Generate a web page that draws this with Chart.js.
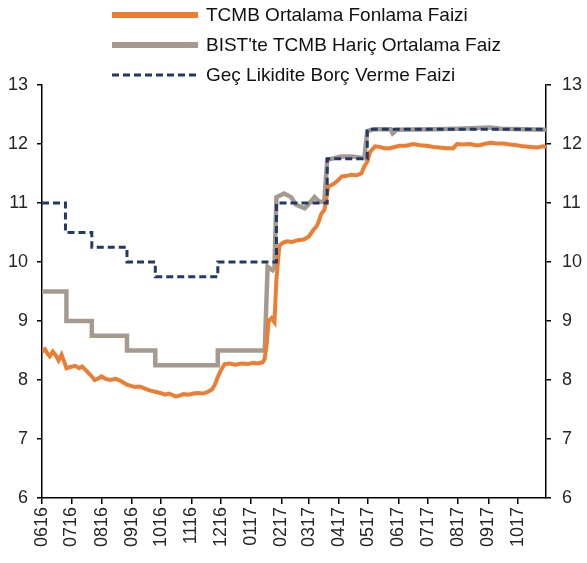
<!DOCTYPE html>
<html>
<head>
<meta charset="utf-8">
<script src="https://cdn.jsdelivr.net/npm/chart.js@4"></script>
<style>
  html, body { margin: 0; padding: 0; background: #fff; }
  #wrap { width: 587px; height: 563px; }
</style>
</head>
<body>
<div id="wrap"><canvas id="rateChart" width="587" height="563"></canvas></div>
<script>
// Day offsets from 1 June 2016, tick at the start of each month
const monthStartDays = [0, 30, 61, 92, 122, 153, 183, 214, 245, 273, 304, 334, 365, 395, 426, 457, 487];
const xTickLabels = ['0616', '0716', '0816', '0916', '1016', '1116', '1216', '0117', '0217',
  '0317', '0417', '0517', '0617', '0717', '0817', '0917', '1017'];
const lastDay = 516;

// TCMB Ortalama Fonlama Faizi
const fundingDays = [0, 3, 6, 8, 11, 14, 17, 20, 23, 25, 29, 34, 38, 41, 44, 47, 51, 54, 58, 61, 65,
  70, 75, 80, 84, 87, 91, 95, 100, 106, 111, 116, 121, 126, 130, 133, 137, 140, 145, 150, 155, 160,
  165, 170, 174, 177, 180, 183, 187, 192, 198, 204, 211, 216, 221, 226, 228, 230, 232, 235, 238, 240,
  243, 247, 251, 256, 262, 268, 273, 276, 278, 281, 283, 286, 289, 290, 293, 297, 300, 304, 307, 312,
  317, 322, 327, 330, 333, 336, 341, 346, 350, 356, 361, 366, 373, 380, 387, 394, 401, 407, 414, 421,
  425, 431, 438, 444, 448, 453, 459, 465, 472, 479, 486, 493, 500, 507, 513, 516];
const fundingRates = [8.48, 8.52, 8.44, 8.40, 8.48, 8.42, 8.33, 8.43, 8.30, 8.20, 8.22, 8.24, 8.20, 8.23,
  8.18, 8.13, 8.06, 8.00, 8.03, 8.06, 8.02, 8.00, 8.02, 7.99, 7.95, 7.92, 7.90, 7.88, 7.89, 7.85, 7.82,
  7.80, 7.78, 7.75, 7.77, 7.75, 7.72, 7.73, 7.76, 7.75, 7.77, 7.78, 7.77, 7.80, 7.84, 7.92, 8.05, 8.16,
  8.27, 8.28, 8.26, 8.28, 8.27, 8.29, 8.28, 8.30, 8.36, 8.60, 9.00, 9.05, 8.98, 9.70, 10.28, 10.33,
  10.35, 10.34, 10.37, 10.38, 10.43, 10.50, 10.55, 10.60, 10.67, 10.82, 10.88, 10.95, 11.28, 11.31,
  11.34, 11.40, 11.45, 11.46, 11.48, 11.47, 11.50, 11.62, 11.70, 11.87, 11.96, 11.95, 11.93, 11.93,
  11.95, 11.97, 11.97, 12.00, 11.98, 11.97, 11.95, 11.94, 11.93, 11.93, 12.00, 11.99, 12.00, 11.98,
  11.98, 12.00, 12.02, 12.01, 12.01, 11.99, 11.98, 11.96, 11.95, 11.94, 11.96, 11.95];

// BIST'te TCMB Haric Ortalama Faiz
const bistDays = [0, 25, 25, 51, 51, 87, 87, 116, 116, 180, 180, 228, 231, 236, 238, 240, 248, 255,
  260, 269, 274, 279, 284, 289, 292, 306, 317, 330, 333, 340, 357, 359, 363, 400, 425, 459, 470, 516];
const bistRates = [9.5, 9.5, 9.0, 9.0, 8.75, 8.75, 8.5, 8.5, 8.25, 8.25, 8.5, 8.5, 9.92, 9.86, 9.9,
  11.1, 11.16, 11.1, 10.97, 10.91, 11.0, 11.1, 11.02, 11.02, 11.73, 11.79, 11.79, 11.76, 12.22, 12.25,
  12.25, 12.18, 12.24, 12.25, 12.26, 12.28, 12.26, 12.24];

// Gec Likidite Borc Verme Faizi (step changes)
const lateDays = [0, 24, 51, 87, 116, 180, 240, 292, 333, 516];
const lateRates = [11.0, 10.5, 10.25, 10.0, 9.75, 10.0, 11.0, 11.75, 12.25, 12.25];

function toPoints(days, values) {
  return days.map((d, i) => ({ x: d, y: values[i] }));
}

// DejaVu did not rotate the x labels here, so stick to the Arial family
const FONT = "'Helvetica Neue', 'Helvetica', 'Arial', sans-serif";
Chart.defaults.font.family = FONT;
Chart.defaults.color = '#262626';

// legend stacked on the left above the plot, drawn from the datasets
const stackedLegend = {
  id: 'stackedLegend',
  afterDraw(chart) {
    const ctx = chart.ctx;
    ctx.save();
    ctx.font = '19px ' + FONT;
    ctx.textBaseline = 'middle';
    ctx.fillStyle = '#111';
    chart.data.datasets.forEach((ds, i) => {
      const y = 15 + i * 30;
      ctx.beginPath();
      ctx.strokeStyle = ds.borderColor;
      ctx.lineWidth = ds.legendWidth;
      ctx.setLineDash(ds.borderDash || []);
      ctx.moveTo(112, y);
      ctx.lineTo(198, y);
      ctx.stroke();
      ctx.setLineDash([]);
      ctx.fillText(ds.label, 206, y + 1);
    });
    ctx.restore();
  }
};

new Chart(document.getElementById('rateChart'), {
  type: 'line',
  data: {
    datasets: [
      {
        label: 'TCMB Ortalama Fonlama Faizi',
        data: toPoints(fundingDays, fundingRates),
        borderColor: '#ED7D31',
        borderWidth: 4,
        legendWidth: 6,
        order: 1
      },
      {
        label: "BIST'te TCMB Hariç Ortalama Faiz",
        data: toPoints(bistDays, bistRates),
        borderColor: '#A69A8F',
        borderWidth: 4.5,
        legendWidth: 6,
        order: 2
      },
      {
        label: 'Geç Likidite Borç Verme Faizi',
        data: toPoints(lateDays, lateRates),
        borderColor: '#1F3A68',
        borderWidth: 3,
        borderDash: [7, 4],
        legendWidth: 3,
        stepped: 'before',
        order: 0
      }
    ]
  },
  options: {
    responsive: false,
    animation: false,
    events: [],
    layout: { padding: { top: 85, left: 0, right: 0, bottom: 0 } },
    elements: { point: { radius: 0 }, line: { tension: 0 } },
    plugins: { legend: { display: false }, tooltip: { enabled: false } },
    scales: {
      x: {
        type: 'linear',
        min: 0,
        max: lastDay,
        afterBuildTicks: (scale) => {
          scale.ticks = monthStartDays.map(v => ({ value: v }));
        },
        afterFit: (scale) => { scale.height = 65; },
        ticks: {
          minRotation: 90,
          maxRotation: 90,
          autoSkip: false,
          padding: 3,
          font: { size: 18 },
          callback: (value) => xTickLabels[monthStartDays.indexOf(value)]
        },
        grid: { drawOnChartArea: false, color: '#000', tickLength: 6, lineWidth: 1.5 },
        border: { color: '#000', width: 1.5 }
      },
      y: {
        position: 'left',
        min: 6,
        max: 13,
        afterFit: (scale) => { scale.width = 42; },
        ticks: { stepSize: 1, padding: 9, font: { size: 18 } },
        grid: { drawOnChartArea: false, color: '#000', tickLength: 5, lineWidth: 1.5 },
        border: { color: '#000', width: 1.5 }
      },
      y2: {
        position: 'right',
        min: 6,
        max: 13,
        afterFit: (scale) => { scale.width = 41; },
        ticks: { stepSize: 1, padding: 11, font: { size: 18 } },
        grid: { drawOnChartArea: false, color: '#000', tickLength: 5, lineWidth: 1.5 },
        border: { color: '#000', width: 1.5 }
      }
    }
  },
  plugins: [stackedLegend]
});
</script>
</body>
</html>
